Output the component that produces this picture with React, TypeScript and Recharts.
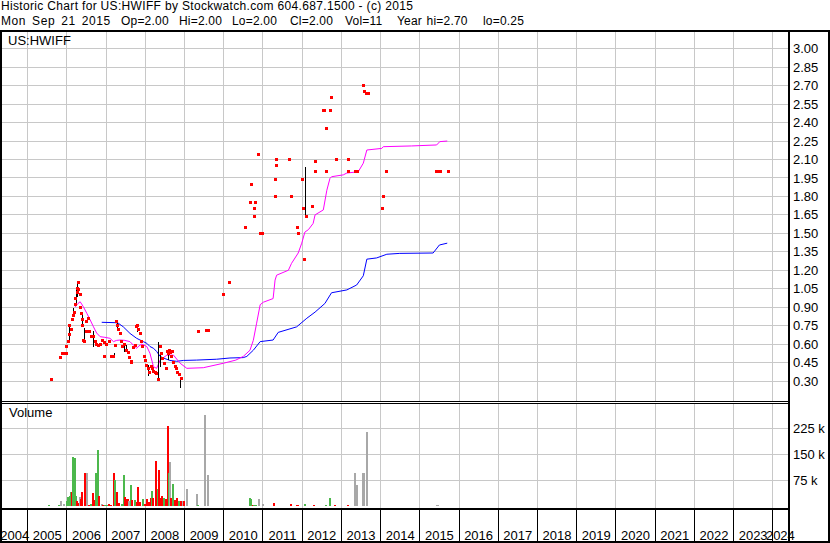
import React from 'react';
import { ComposedChart, Line, Scatter, XAxis, YAxis, CartesianGrid, ReferenceLine } from 'recharts';

// ---------- data ----------
const closeT = [2005.60,2005.84,2005.88,2005.93,2005.98,2006.00,2006.04,2006.07,2006.08,2006.11,2006.15,2006.17,2006.19,2006.21,2006.23,2006.26,2006.28,2006.29,2006.31,2006.34,2006.35,2006.38,2006.40,2006.41,2006.42,2006.46,2006.49,2006.51,2006.55,2006.59,2006.62,2006.67,2006.72,2006.76,2006.80,2006.85,2006.90,2006.95,2006.97,2007.02,2007.10,2007.14,2007.19,2007.23,2007.27,2007.29,2007.32,2007.36,2007.39,2007.43,2007.48,2007.53,2007.56,2007.60,2007.64,2007.66,2007.71,2007.75,2007.78,2007.80,2007.83,2007.87,2007.91,2007.94,2007.97,2008.01,2008.03,2008.07,2008.11,2008.15,2008.18,2008.22,2008.25,2008.29,2008.33,2008.38,2008.41,2008.45,2008.49,2008.53,2008.57,2008.60,2008.62,2008.64,2008.67,2008.69,2008.72,2008.76,2008.80,2008.83,2008.87,2008.93,2009.35,2009.57,2009.61,2009.99,2010.16,2010.56,2010.69,2010.71,2010.78,2010.785,2010.82,2010.88,2010.93,2010.99,2011.31,2011.315,2011.35,2011.355,2011.67,2011.73,2011.89,2011.92,2012.01,2012.04,2012.07,2012.10,2012.27,2012.33,2012.335,2012.54,2012.58,2012.61,2012.63,2012.73,2012.75,2012.88,2013.19,2013.195,2013.37,2013.42,2013.56,2013.59,2013.64,2013.68,2014.05,2014.08,2014.16,2015.43,2015.47,2015.52,2015.72];
const closeP = [0.31,0.49,0.52,0.52,0.52,0.58,0.62,0.68,0.755,0.72,0.80,0.83,0.86,0.92,0.97,1.02,1.05,1.10,1.04,1.00,0.90,0.85,0.80,0.755,0.63,0.62,0.70,0.78,0.81,0.70,0.66,0.66,0.62,0.60,0.59,0.60,0.63,0.61,0.50,0.60,0.62,0.50,0.50,0.59,0.78,0.75,0.72,0.69,0.62,0.58,0.60,0.55,0.53,0.49,0.46,0.45,0.57,0.59,0.74,0.75,0.72,0.69,0.62,0.58,0.50,0.47,0.43,0.40,0.37,0.42,0.40,0.38,0.37,0.36,0.31,0.58,0.52,0.48,0.44,0.40,0.54,0.52,0.55,0.53,0.50,0.54,0.45,0.42,0.40,0.37,0.35,0.32,0.70,0.71,0.71,1.00,1.10,1.55,1.75,1.90,1.70,1.64,1.75,2.14,1.50,1.50,1.94,1.80,2.10,2.05,2.10,1.80,1.55,1.50,1.94,1.70,1.29,1.64,1.72,2.08,2.00,2.50,2.50,2.00,2.35,2.50,2.60,2.10,2.10,2.00,2.00,2.00,2.70,2.65,2.64,2.64,1.70,1.80,2.00,2.00,2.00,2.00,2.00];

const hlT = [2006.08,2006.18,2006.24,2006.27,2006.40,2006.45,2006.68,2007.21,2007.30,2007.46,2007.53,2007.80,2008.08,2008.33,2008.38,2008.60,2008.89,2012.09];
const hlLow = [0.62,0.82,0.93,0.98,0.755,0.61,0.58,0.50,0.72,0.535,0.54,0.70,0.34,0.31,0.41,0.47,0.24,1.64];
const hlHigh = [0.755,0.89,1.06,1.10,0.85,0.73,0.71,0.53,0.78,0.59,0.59,0.755,0.43,0.62,0.51,0.55,0.32,2.04];

const fastT = [2006.21,2006.285,2006.34,2006.42,2006.51,2006.59,2006.68,2006.76,2006.85,2006.97,2007.10,2007.19,2007.27,2007.36,2007.48,2007.61,2007.70,2007.78,2007.84,2007.91,2008.04,2008.12,2008.21,2008.29,2008.38,2008.55,2008.72,2008.89,2009.06,2009.48,2009.99,2010.31,2010.50,2010.67,2010.755,2010.84,2010.93,2011.01,2011.26,2011.31,2011.35,2011.65,2011.73,2011.90,2011.99,2012.07,2012.16,2012.28,2012.33,2012.54,2012.63,2012.71,2012.75,2013.05,2013.14,2013.43,2013.56,2013.65,2014.03,2014.07,2014.79,2015.43,2015.51,2015.70];
const fastP = [0.90,0.93,0.944,0.904,0.85,0.80,0.74,0.69,0.66,0.655,0.647,0.62,0.63,0.633,0.63,0.62,0.59,0.566,0.585,0.60,0.58,0.525,0.416,0.403,0.47,0.51,0.51,0.444,0.403,0.408,0.444,0.47,0.50,0.55,0.63,0.77,0.92,0.94,0.97,1.12,1.16,1.20,1.256,1.34,1.42,1.51,1.53,1.58,1.65,1.69,1.85,1.947,1.96,1.975,1.99,2.00,2.07,2.177,2.19,2.204,2.21,2.218,2.245,2.25];

const slowT = [2006.89,2007.23,2007.31,2007.44,2007.61,2007.78,2007.95,2008.04,2008.12,2008.21,2008.29,2008.38,2008.46,2008.63,2008.80,2008.97,2009.31,2009.82,2010.16,2010.50,2010.59,2010.755,2010.93,2011.26,2011.39,2011.86,2012.12,2012.33,2012.58,2012.75,2013.14,2013.39,2013.56,2013.65,2013.90,2014.16,2014.49,2015.34,2015.50,2015.70];
const slowP = [0.777,0.774,0.77,0.74,0.687,0.647,0.62,0.606,0.58,0.566,0.54,0.50,0.487,0.467,0.46,0.467,0.47,0.477,0.487,0.49,0.50,0.55,0.62,0.633,0.695,0.74,0.81,0.86,0.93,1.017,1.04,1.08,1.155,1.29,1.30,1.33,1.337,1.34,1.405,1.42];

const volT = [2005.55,2005.81,2005.86,2005.94,2006.00,2006.04,2006.07,2006.10,2006.13,2006.17,2006.20,2006.23,2006.27,2006.30,2006.33,2006.35,2006.39,2006.46,2006.51,2006.57,2006.62,2006.66,2006.69,2006.74,2006.80,2006.83,2006.89,2006.93,2006.97,2007.02,2007.07,2007.12,2007.20,2007.24,2007.29,2007.34,2007.41,2007.45,2007.48,2007.52,2007.56,2007.58,2007.63,2007.67,2007.74,2007.78,2007.82,2007.87,2007.93,2007.99,2008.05,2008.10,2008.14,2008.16,2008.21,2008.27,2008.32,2008.35,2008.39,2008.43,2008.48,2008.53,2008.57,2008.60,2008.63,2008.66,2008.72,2008.77,2008.82,2008.86,2008.90,2008.95,2008.99,2009.06,2009.33,2009.35,2009.52,2009.60,2009.96,2010.14,2010.52,2010.67,2010.70,2010.75,2010.78,2010.82,2010.89,2010.99,2011.27,2011.33,2011.61,2011.71,2011.87,2011.90,2012.02,2012.07,2012.25,2012.29,2012.53,2012.60,2012.71,2012.85,2013.16,2013.34,2013.36,2013.40,2013.54,2013.58,2013.60,2013.65,2014.02,2014.04,2014.11,2015.43,2015.47,2015.72];
const volK = [3,5,15,6,16,26,30,42,40,143,138,30,15,10,28,20,40,97,97,5,8,39,18,97,162,30,8,5,4,5,6,5,97,75,40,10,8,90,28,22,22,15,61,18,18,12,56,12,20,8,20,12,25,45,25,131,50,105,25,30,25,22,232,95,128,25,64,18,25,15,15,15,15,50,35,3,263,90,2,2,2,24,21,4,4,4,21,8,10,2,2,7,3,5,2,8,2,5,2,4,24,5,5,3,97,61,97,97,2,214,2,2,2,3,3,2];
const volDir = ['u','u','n','n','u','u','u','u','d','u','u','u','d','d','n','d','d','d','n','d','u','d','d','u','u','d','n','d','u','u','d','d','d','u','d','d','u','u','d','d','d','n','u','d','u','d','d','d','u','d','d','d','d','u','d','d','u','d','d','d','u','d','d','u','n','d','u','d','d','u','d','n','d','n','n','u','n','n','u','u','u','u','u','d','u','u','n','n','d','u','n','d','d','d','d','u','u','d','d','u','u','d','d','n','n','n','n','n','d','n','d','u','u','n','n','n'];

const priceTicks = [0.30,0.45,0.60,0.75,0.90,1.05,1.20,1.35,1.50,1.65,1.80,1.95,2.10,2.25,2.40,2.55,2.70,2.85,3.00];
const volTicks = [75,150,225];
const yearTicks = [2005,2006,2007,2008,2009,2010,2011,2012,2013,2014,2015,2016,2017,2018,2019,2020,2021,2022,2023,2024];

const headerLine1 = 'Historic Chart for US:HWIFF by Stockwatch.com 604.687.1500 - (c) 2015';
const headerFields = ['Mon Sep 21 2015', 'Op=2.00', 'Hi=2.00', 'Lo=2.00', 'Cl=2.00', 'Vol=11', 'Year hi=2.70', 'lo=0.25'];
const symbolLabel = 'US:HWIFF';
const volumeLabel = 'Volume';

// ---------- layout helpers ----------
const headerFieldX = [1, 121, 179, 232, 290, 345, 397, 483];
const T0 = 2004.347;
const T1 = 2024.389;
const yearLabelTicks = yearTicks.map((y, i) => (i === 0 ? (T0 + y) / 2 : y - 0.5)).concat([(2024 + T1) / 2]);

const closes = closeT.map((t, i) => ({ t, p: closeP[i] }));
const hl = hlT.map((t, i) => ({ t, lo: hlLow[i], hi: hlHigh[i] }));
const fast = fastT.map((t, i) => ({ t, p: fastP[i] }));
const slow = slowT.map((t, i) => ({ t, p: slowP[i] }));
const dirColor: Record<string, string> = { u: '#4cb84c', d: '#ff0000', n: '#a8a8a8' };
const vols = volT.map((t, i) => ({ t, v: volK[i], c: dirColor[volDir[i]] }));

const FONT = "'Liberation Sans', Arial, sans-serif";
const GRID = '#c8c8c8';

const DotShape = (props: any) => {
  const { cx, cy } = props;
  if (cx == null || cy == null) return null;
  return <rect x={cx - 1.5} y={cy - 1.5} width={3} height={3} fill="#ff0000" />;
};

const box = (left: number, top: number, width: number, height: number) => (
  <div style={{ position: 'absolute', left, top, width, height, background: '#000' }} />
);

export default function App() {
  return (
    <div style={{ position: 'absolute', left: 0, top: 0, width: 830, height: 543, background: '#fff', fontFamily: FONT, overflow: 'hidden' }}>
      <style>{`svg line, svg rect { shape-rendering: crispEdges; }`}</style>
      <div style={{ position: 'absolute', left: 1, top: 0, fontSize: 12, lineHeight: '13px', whiteSpace: 'pre', letterSpacing: '0.33px', color: '#000' }}>{headerLine1}</div>
      {headerFields.map((f, i) => (
        <div key={f} style={{ position: 'absolute', left: headerFieldX[i], top: 15, fontSize: 12, lineHeight: '13px', whiteSpace: 'pre', letterSpacing: i === 0 ? '0.6px' : '0.2px', wordSpacing: i === 0 ? '2px' : '1px', color: '#000' }}>{f}</div>
      ))}

      {/* price panel */}
      <div style={{ position: 'absolute', left: 0, top: 31 }}>
        <ComposedChart width={830} height={370} margin={{ top: 0, right: 0, left: 2, bottom: 0 }}>
          <CartesianGrid stroke={GRID} strokeWidth={1} verticalValues={yearTicks} />
          <XAxis dataKey="t" type="number" domain={[T0, T1]} allowDataOverflow ticks={yearTicks} hide />
          <YAxis orientation="right" width={42} type="number" domain={[0.1375, 3.144]} allowDataOverflow ticks={priceTicks} tickFormatter={(v: number) => v.toFixed(2)} tickLine={false} axisLine={false} tickSize={0} tickMargin={5} tick={{ fontSize: 13, fill: '#000' }} interval={0} />
          <Line data={slow} dataKey="p" stroke="#0000ff" strokeWidth={1} dot={false} isAnimationActive={false} type="linear" />
          <Line data={fast} dataKey="p" stroke="#ff00ff" strokeWidth={1} dot={false} isAnimationActive={false} type="linear" />
          {hl.map((d, i) => (
            <ReferenceLine key={'hl' + i} segment={[{ x: d.t, y: d.lo }, { x: d.t, y: d.hi }]} stroke="#000" strokeWidth={1} />
          ))}
          <Scatter data={closes} dataKey="p" shape={DotShape} isAnimationActive={false} />
        </ComposedChart>
      </div>
      <div style={{ position: 'absolute', left: 8, top: 33, fontSize: 13, lineHeight: '15px', color: '#000' }}>{symbolLabel}</div>

      {/* volume panel */}
      <div style={{ position: 'absolute', left: 0, top: 403 }}>
        <ComposedChart width={830} height={106} data={vols} margin={{ top: 0, right: 0, left: 2, bottom: 0 }}>
          <CartesianGrid stroke={GRID} strokeWidth={1} verticalValues={yearTicks} />
          <XAxis dataKey="t" type="number" domain={[T0, T1]} allowDataOverflow ticks={yearTicks} hide />
          <YAxis orientation="right" width={42} type="number" domain={[-7.8, 298]} allowDataOverflow ticks={volTicks} tickFormatter={(v: number) => `${v} k`} tickLine={false} axisLine={false} tickSize={0} tickMargin={5} tick={{ fontSize: 13, fill: '#000' }} interval={0} />
          {vols.map((d, i) => (
            <ReferenceLine key={'v' + i} segment={[{ x: d.t, y: 0 }, { x: d.t, y: d.v }]} stroke={d.c} strokeWidth={2} />
          ))}
        </ComposedChart>
      </div>
      <div style={{ position: 'absolute', left: 9, top: 405, fontSize: 13, lineHeight: '15px', color: '#000' }}>{volumeLabel}</div>

      {/* year axis */}
      <div style={{ position: 'absolute', left: 0, top: 509 }}>
        <ComposedChart width={830} height={34} data={yearTicks.map((t) => ({ t }))} margin={{ top: 0, right: 42, left: 2, bottom: 0 }}>
          <CartesianGrid stroke="#000" strokeWidth={1} horizontal={false} verticalValues={yearTicks} />
          <XAxis dataKey="t" type="number" domain={[T0, T1]} allowDataOverflow ticks={yearTicks} hide />
          <XAxis xAxisId="lbl" dataKey="t" type="number" orientation="top" mirror domain={[T0, T1]} allowDataOverflow ticks={yearLabelTicks} interval={0} height={30} tickLine={false} axisLine={false} tickSize={0} tickMargin={22} tickFormatter={(v: number) => String(Math.floor(v))} tick={{ fontSize: 13, fill: '#000' }} />
        </ComposedChart>
      </div>

      {/* frame lines */}
      {box(0, 30, 830, 2)}
      {box(0, 401, 789, 1)}
      {box(0, 403, 789, 1)}
      {box(0, 508, 789, 2)}
      {box(788, 30, 2, 513)}
      {box(0, 30, 2, 513)}
      {box(828, 30, 2, 513)}
      {box(0, 541, 830, 2)}
    </div>
  );
}
